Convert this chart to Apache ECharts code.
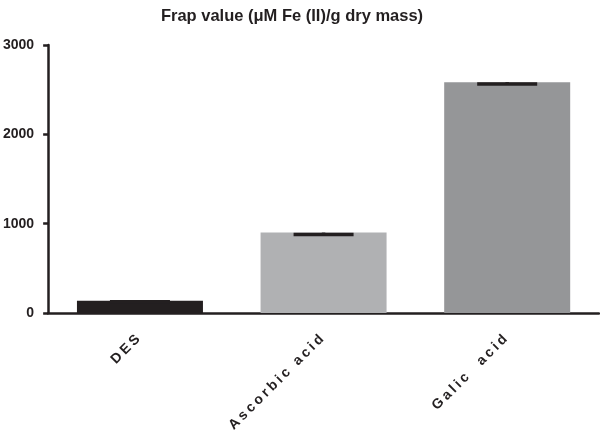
<!DOCTYPE html>
<html>
<head>
<meta charset="utf-8">
<script src="https://cdn.jsdelivr.net/npm/echarts@6/dist/echarts.min.js"></script>
<style>
  html, body { margin: 0; padding: 0; background: #fff; }
  #chart { width: 600px; height: 432px; }
</style>
</head>
<body>
<div id="chart"></div>
<script>
// data
const categories = ['DES', 'Ascorbic acid', 'Galic  acid']
const frapValues = [137, 900, 2584]
const frapErrors = [10, 22, 20]
const barColors = ['#231f20', '#b0b1b3', '#959698']
const yTicks = [0, 1000, 2000, 3000]

const ink = '#231f20'

// the category labels in the reference are letter-spaced; canvas can do that natively
const origFill = CanvasRenderingContext2D.prototype.fillText
CanvasRenderingContext2D.prototype.fillText = function (txt, x, y, w) {
  this.letterSpacing = categories.indexOf(txt) >= 0 ? '3px' : '0px'
  const r = w === undefined ? origFill.call(this, txt, x, y) : origFill.call(this, txt, x, y, w)
  this.letterSpacing = '0px'
  return r
}

const chart = echarts.init(document.getElementById('chart'))

chart.setOption({
  animation: false,
  title: {
    text: 'Frap value (μM Fe (II)/g dry mass)',
    left: 287,
    textAlign: 'center',
    top: 3,
    textStyle: { fontFamily: 'Liberation Sans', fontSize: 16.5, fontWeight: 'bold', color: ink }
  },
  grid: { left: 47, right: 1, top: 45, bottom: 119 },
  xAxis: {
    type: 'category',
    data: categories,
    axisLine: { lineStyle: { color: ink, width: 2.5 } },
    axisTick: { alignWithLabel: true, length: 6, lineStyle: { color: ink, width: 2.5 } },
    axisLabel: {
      rotate: 45,
      margin: 22,
      color: ink,
      fontFamily: 'Liberation Sans',
      fontWeight: 'bold',
      fontSize: 14
    }
  },
  yAxis: {
    type: 'value',
    min: yTicks[0],
    max: yTicks[yTicks.length - 1],
    interval: yTicks[1] - yTicks[0],
    axisLine: { show: true, lineStyle: { color: ink, width: 2.5 } },
    axisTick: { show: true, length: 5, lineStyle: { color: ink, width: 2.5 } },
    axisLabel: {
      margin: 14,
      color: ink,
      fontFamily: 'Liberation Sans',
      fontWeight: 'bold',
      fontSize: 14,
      formatter: v => String(v)
    },
    splitLine: { show: false }
  },
  series: [
    {
      type: 'bar',
      barWidth: 126,
      data: frapValues.map((v, i) => ({ value: v, itemStyle: { color: barColors[i] } }))
    },
    {
      // error bars, only the lower whisker shows (it sits just under the bar top)
      type: 'custom',
      data: frapValues.map((v, i) => [i, v, frapErrors[i]]),
      renderItem: (params, api) => {
        const i = api.value(0)
        const top = api.coord([i, api.value(1)])
        const bot = api.coord([i, api.value(1) - api.value(2)])
        const half = 30
        const style = { stroke: ink, lineWidth: 3.5 }
        return {
          type: 'group',
          children: [
            { type: 'line', shape: { x1: top[0], y1: top[1], x2: bot[0], y2: bot[1] }, style },
            { type: 'line', shape: { x1: bot[0] - half, y1: bot[1], x2: bot[0] + half, y2: bot[1] }, style }
          ]
        }
      },
      z: 3
    }
  ]
})
</script>
</body>
</html>
